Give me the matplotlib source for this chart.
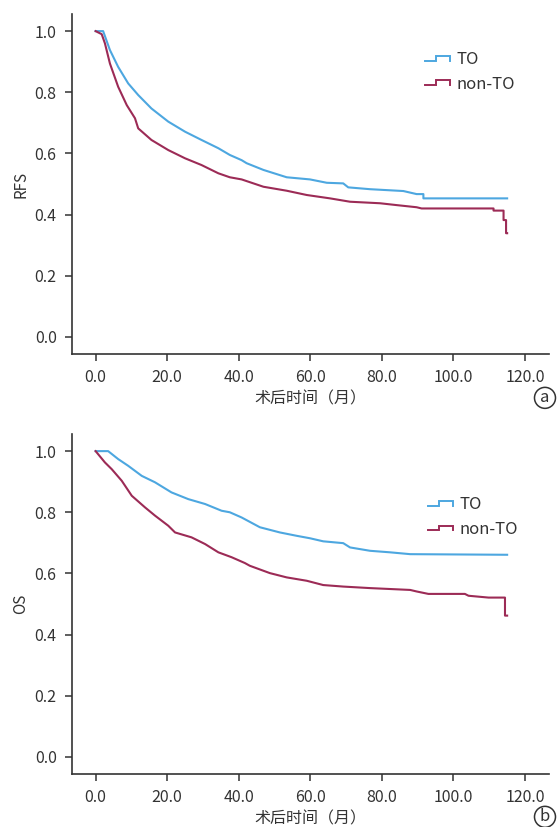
import matplotlib
matplotlib.use("Agg")
import matplotlib.pyplot as plt
from matplotlib.legend_handler import HandlerBase
from matplotlib.lines import Line2D

plt.rcParams['font.family'] = ['Noto Sans CJK SC', 'DejaVu Sans']

# ---------------- data ----------------
rfs_to_t = [0, 2.1, 4.0, 6.3, 9.1, 11.9, 15.6, 20.3, 25, 29.6, 34.3, 37.5, 40.8, 42.2, 46.9,
            53.4, 59.9, 64.6, 69.2, 70.6, 76.7, 86, 89.7, 91.6, 91.6, 115]
rfs_to_s = [1, 1, 0.938, 0.883, 0.829, 0.791, 0.747, 0.704, 0.671, 0.644, 0.617, 0.595, 0.578,
            0.568, 0.546, 0.522, 0.515, 0.504, 0.502, 0.489, 0.483, 0.477, 0.467, 0.467, 0.453, 0.453]

rfs_non_t = [0, 1.7, 2.6, 4.0, 6.3, 8.7, 11.0, 11.9, 15.6, 20.3, 25, 29.6, 34.3, 37.5, 40.8,
             46.9, 53.4, 59, 65.5, 71.1, 79.5, 84.1, 89.7, 91.1, 111.2, 111.2, 114, 114, 114.7,
             114.7, 115]
rfs_non_s = [1, 0.99, 0.96, 0.894, 0.818, 0.758, 0.715, 0.682, 0.644, 0.611, 0.584, 0.562, 0.535,
             0.522, 0.515, 0.491, 0.478, 0.464, 0.453, 0.442, 0.437, 0.431, 0.424, 0.42, 0.42,
             0.413, 0.413, 0.382, 0.382, 0.339, 0.339]

os_to_t = [0, 3.5, 6.3, 9.1, 12.9, 16.6, 21.2, 25.9, 30.6, 35.2, 37.5, 40.8, 45.9, 51.5, 56.2,
           59.9, 63.6, 69.2, 71.1, 76.7, 82.3, 87.9, 115]
os_to_s = [1, 1, 0.974, 0.952, 0.919, 0.898, 0.865, 0.843, 0.827, 0.805, 0.8, 0.783, 0.751, 0.734,
           0.723, 0.715, 0.705, 0.699, 0.685, 0.674, 0.669, 0.663, 0.661]

os_non_t = [0, 2.6, 4.5, 7.3, 10.1, 13.8, 16.6, 20.3, 22.2, 26.8, 30.6, 34.3, 38, 41.7, 43.1,
            48.7, 53.4, 59, 63.6, 69.2, 76.7, 82.3, 87.9, 89.7, 93, 103.2, 104.2, 109.8, 114.4,
            114.4, 115]
os_non_s = [1, 0.963, 0.941, 0.903, 0.854, 0.816, 0.789, 0.756, 0.734, 0.718, 0.696, 0.669, 0.653,
            0.634, 0.625, 0.601, 0.587, 0.576, 0.562, 0.557, 0.552, 0.549, 0.546, 0.541, 0.533,
            0.533, 0.527, 0.521, 0.521, 0.462, 0.462]

group_labels = ['TO', 'non-TO']
y_labels = ['RFS', 'OS']
panel_tags = ['a', 'b']
x_label = '术后时间（月）'
x_ticks = [0, 20, 40, 60, 80, 100, 120]
y_ticks = [0.0, 0.2, 0.4, 0.6, 0.8, 1.0]

# ---------------- style ----------------
C_TO = '#4da7e0'
C_NON = '#9c2b56'
AX_C = '#333333'


class StepHandler(HandlerBase):
    def create_artists(self, legend, orig_handle, xdescent, ydescent, width, height, fontsize, trans):
        x0 = -xdescent
        y0 = -ydescent
        xs = [x0, x0 + width * 0.45, x0 + width * 0.45, x0 + width, x0 + width]
        ys = [y0 + height * 0.3, y0 + height * 0.3, y0 + height * 0.7, y0 + height * 0.7,
              y0 + height * 0.3]
        ln = Line2D(xs, ys, color=orig_handle.get_color(), lw=1.4, solid_joinstyle='miter')
        ln.set_transform(trans)
        return [ln]


fig = plt.figure(figsize=(5.57, 8.27), dpi=100)
W, H = 557, 827
left = 72 / W
width = (549 - 72) / W
axes_specs = [(1 - 354 / H, 340 / H), (1 - 774 / H, 340 / H)]
tag_y = [-0.129, -0.126]
legend_anchor = [(0.708, 0.935), (0.714, 0.861)]

datasets = [((rfs_to_t, rfs_to_s), (rfs_non_t, rfs_non_s)),
            ((os_to_t, os_to_s), (os_non_t, os_non_s))]

for i, (bottom, height) in enumerate(axes_specs):
    ax = fig.add_axes([left, bottom, width, height])
    (t1, s1), (t2, s2) = datasets[i]
    h1, = ax.plot(t1, s1, color=C_TO, lw=1.5, label=group_labels[0])
    h2, = ax.plot(t2, s2, color=C_NON, lw=1.5, label=group_labels[1])
    ax.set_xlim(-6.6, 126.7)
    ax.set_ylim(-0.056, 1.056)
    ax.set_xticks(x_ticks)
    ax.set_xticklabels([f'{v:.1f}' for v in x_ticks])
    ax.set_yticks(y_ticks)
    ax.set_yticklabels([f'{v:.1f}' for v in y_ticks])
    for sp in ['top', 'right']:
        ax.spines[sp].set_visible(False)
    for sp in ['left', 'bottom']:
        ax.spines[sp].set_color(AX_C)
        ax.spines[sp].set_linewidth(1.2)
    ax.tick_params(axis='both', direction='out', length=5, width=1.1, color=AX_C,
                   labelcolor=AX_C, labelsize=11.5, pad=6)
    ax.set_ylabel(y_labels[i], fontsize=11, color=AX_C, labelpad=4)
    ax.set_xlabel(x_label, fontsize=11.5, color=AX_C, labelpad=3)
    leg = ax.legend(handles=[h1, h2], loc='upper left', bbox_to_anchor=legend_anchor[i],
                    frameon=False, fontsize=12, handler_map={Line2D: StepHandler()},
                    handlelength=1.5, handletextpad=0.4, labelspacing=0.45)
    for txt in leg.get_texts():
        txt.set_color(AX_C)
    ax.text(0.9916, tag_y[i], panel_tags[i], transform=ax.transAxes, fontsize=12, color=AX_C,
            ha='center', va='center',
            bbox=dict(boxstyle='circle,pad=0.12', fc='none', ec=AX_C, lw=1.1))

fig.savefig('out.png', dpi=100)
